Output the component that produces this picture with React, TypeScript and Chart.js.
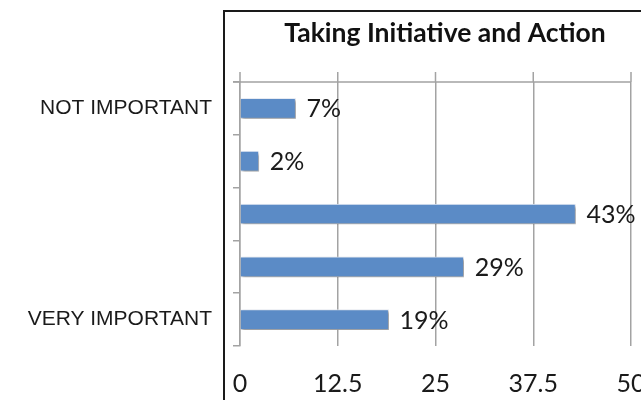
import React, { useEffect, useRef } from "react";
import { Chart, registerables } from "chart.js";

Chart.register(...registerables);

const title = "Taking Initiative and Action";
const categories = ["NOT IMPORTANT", "", "", "", "VERY IMPORTANT"];
const values = [7.1, 2.4, 42.9, 28.6, 19.0];
const valueLabels = ["7%", "2%", "43%", "29%", "19%"];
const axisMin = 0;
const axisMax = 50;
const axisStep = 12.5;

const GRID = "#a3a3a3";
const TEXT = "#1a1a1a";

const decorPlugin = {
  id: "decor",
  beforeDatasetsDraw(chart: any) {
    const ctx = chart.ctx;
    const area = chart.chartArea;
    const xs = chart.scales.x;
    ctx.save();
    ctx.strokeStyle = GRID;
    ctx.lineWidth = 1.5;
    ctx.beginPath();
    ctx.moveTo(area.left - 7, area.top);
    ctx.lineTo(area.right, area.top);
    xs.ticks.forEach((t: any) => {
      const x = xs.getPixelForValue(t.value);
      ctx.moveTo(x, area.top - 10);
      ctx.lineTo(x, area.top);
    });
    ctx.stroke();
    ctx.restore();
    ctx.save();
    ctx.shadowColor = "rgba(0,0,0,0.4)";
    ctx.shadowBlur = 3;
    ctx.shadowOffsetX = 2;
    ctx.shadowOffsetY = 2;
  },
  afterDatasetsDraw(chart: any) {
    const ctx = chart.ctx;
    ctx.restore();
    const meta = chart.getDatasetMeta(0);
    ctx.save();
    ctx.fillStyle = TEXT;
    ctx.font = "25px Lato";
    ctx.textAlign = "left";
    ctx.textBaseline = "middle";
    meta.data.forEach((bar: any, i: number) => {
      ctx.fillText(valueLabels[i], bar.x + 11, bar.y + 1);
    });
    ctx.restore();
  },
  afterDraw(chart: any) {
    const ctx = chart.ctx;
    ctx.save();
    ctx.fillStyle = "#1a1a1a";
    ctx.fillRect(223, 10, 2, 400);
    ctx.fillRect(223, 10, 430, 2);
    ctx.font = "bold 26.5px Lato";
    ctx.textAlign = "center";
    ctx.textBaseline = "middle";
    ctx.fillStyle = "#111";
    ctx.fillText(title, 445, 33);
    ctx.restore();
  },
};

export default function App() {
  const ref = useRef<HTMLCanvasElement | null>(null);
  useEffect(() => {
    if (!ref.current) return;
    const chart = new Chart(ref.current, {
      type: "bar",
      data: {
        labels: categories,
        datasets: [
          {
            data: values,
            backgroundColor: "#5b8bc6",
            borderColor: "rgba(235,240,248,0.9)",
            borderWidth: 1,
            barThickness: 20,
          },
        ],
      },
      options: {
        indexAxis: "y",
        animation: false,
        responsive: false,
        events: [],
        layout: { padding: { left: 0, right: 10, top: 82, bottom: 0 } },
        plugins: { legend: { display: false }, tooltip: { enabled: false }, title: { display: false } },
        scales: {
          x: {
            min: axisMin,
            max: axisMax,
            ticks: {
              stepSize: axisStep,
              color: TEXT,
              font: { family: "Lato", size: 25 },
              padding: 23,
              maxRotation: 0,
            },
            grid: { color: GRID, lineWidth: 1.5, drawTicks: false },
            border: { display: false },
            afterFit(s: any) {
              s.height = 54;
              s.paddingLeft = 0;
              s.paddingRight = 0;
            },
          },
          y: {
            type: "category",
            offset: true,
            ticks: {
              color: TEXT,
              font: { family: "Liberation Sans", size: 21 },
              padding: 21,
            },
            grid: { offset: true, drawOnChartArea: false, tickLength: 7, color: GRID, lineWidth: 1.5 },
            border: { color: GRID, width: 1.5 },
            afterFit(s: any) {
              s.width = 240;
            },
          },
        },
      },
      plugins: [decorPlugin],
    } as any);
    return () => chart.destroy();
  }, []);
  return (
    <div style={{ position: "fixed", left: 0, top: 0, width: 641, height: 400, background: "#fff" }}>
      <canvas ref={ref} width={641} height={400} />
    </div>
  );
}
